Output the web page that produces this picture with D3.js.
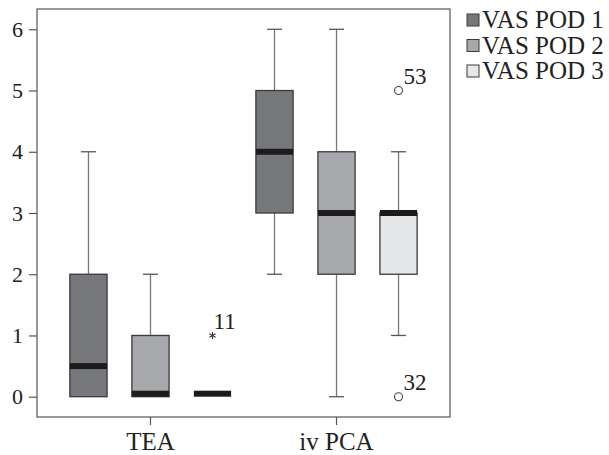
<!DOCTYPE html>
<html><head><meta charset="utf-8">
<script src="https://cdn.jsdelivr.net/npm/d3@7/dist/d3.min.js"></script>
<style>body{margin:0;background:#fff}svg{display:block}</style>
</head><body><svg id="c" width="609" height="455"></svg>
<script>
const groups = ["TEA", "iv PCA"];
const seriesNames = ["VAS POD 1", "VAS POD 2", "VAS POD 3"];
const seriesColors = ["#77787b", "#a7a8ab", "#e6e7e8"];
// [min, q1, median, q3, max] per group, per series
const teaStats = [[0, 0, 0.5, 2, 4], [0, 0, 0, 1, 2], [0, 0, 0, 0, 0]];
const pcaStats = [[2, 3, 4, 5, 6], [0, 2, 3, 4, 6], [1, 2, 3, 3, 4]];
const yTicks = [0, 1, 2, 3, 4, 5, 6];
// outliers: group, series, value, label, symbol
const outliers = [
  {g: "TEA", s: 2, v: 1, label: "11", sym: "star"},
  {g: "iv PCA", s: 2, v: 5, label: "53", sym: "circle"},
  {g: "iv PCA", s: 2, v: 0, label: "32", sym: "circle"}
];

const stats = {"TEA": teaStats, "iv PCA": pcaStats};
const svg = d3.select("#c");
const L = 37, R = 450, T = 9, B = 417;
const font = "'Liberation Serif', 'DejaVu Serif', serif";

const x = d3.scaleBand().domain(groups).range([L, R]).paddingOuter(0.11).paddingInner(0);
const xs = d3.scaleBand().domain([0, 1, 2]).range([0, x.bandwidth()]).paddingInner(0.4).paddingOuter(0.2);
const y = d3.scaleLinear().domain([0, 6]).range([396.7, 29.3]);

// frame
svg.append("rect").attr("x", L).attr("y", T).attr("width", R - L).attr("height", B - T)
  .attr("fill", "none").attr("stroke", "#555").attr("stroke-width", 1.2);

// y axis
const yAxis = d3.axisLeft(y).tickValues(yTicks).tickSize(8).tickPadding(6).tickFormat(d3.format("d"));
const ga = svg.append("g").attr("transform", `translate(${L},0)`).call(yAxis);
ga.select(".domain").remove();
ga.selectAll("line").attr("stroke", "#555").attr("stroke-width", 1.2);
ga.selectAll("text").attr("font-family", font).attr("font-size", 22).attr("fill", "#222");

// x axis
const xAxis = d3.axisBottom(x).tickSize(8).tickPadding(5);
const gx = svg.append("g").attr("transform", `translate(0,${B})`).call(xAxis);
gx.select(".domain").remove();
gx.selectAll("line").attr("stroke", "#555").attr("stroke-width", 1.2);
gx.selectAll("text").attr("font-family", font).attr("font-size", 25).attr("fill", "#222").attr("dy", "0.8em");

const bw = xs.bandwidth();
groups.forEach(g => {
  stats[g].forEach((st, i) => {
    const [mn, q1, md, q3, mx] = st;
    const cx = x(g) + xs(i) + bw / 2;
    const gg = svg.append("g");
    // whiskers
    if (mx > q3) {
      gg.append("line").attr("x1", cx).attr("x2", cx).attr("y1", y(q3)).attr("y2", y(mx)).attr("stroke", "#777").attr("stroke-width", 1.3);
      gg.append("line").attr("x1", cx - 7.5).attr("x2", cx + 7.5).attr("y1", y(mx)).attr("y2", y(mx)).attr("stroke", "#555").attr("stroke-width", 1.3);
    }
    if (mn < q1) {
      gg.append("line").attr("x1", cx).attr("x2", cx).attr("y1", y(q1)).attr("y2", y(mn)).attr("stroke", "#777").attr("stroke-width", 1.3);
      gg.append("line").attr("x1", cx - 7.5).attr("x2", cx + 7.5).attr("y1", y(mn)).attr("y2", y(mn)).attr("stroke", "#555").attr("stroke-width", 1.3);
    }
    if (q3 > q1) {
      gg.append("rect").attr("x", cx - bw / 2).attr("y", y(q3)).attr("width", bw).attr("height", y(q1) - y(q3))
        .attr("fill", seriesColors[i]).attr("stroke", "#3a3a3a").attr("stroke-width", 1.3);
    }
    // median: thick bar, kept inside the box
    const mh = 6;
    let my = y(md) - mh / 2;
    if (my + mh > y(q1)) my = y(q1) - mh;
    gg.append("rect").attr("x", cx - bw / 2).attr("y", my).attr("width", bw).attr("height", mh).attr("fill", "#1c1c1c");
  });
});

// outliers
outliers.forEach(o => {
  const cx = x(o.g) + xs(o.s) + bw / 2;
  const cy = y(o.v);
  if (o.sym === "circle") {
    svg.append("circle").attr("cx", cx).attr("cy", cy).attr("r", 4).attr("fill", "#fff").attr("stroke", "#444").attr("stroke-width", 1.1);
    svg.append("text").attr("x", cx + 5).attr("y", cy - 7).attr("font-family", font).attr("font-size", 23).attr("fill", "#222").text(o.label);
  } else {
    // asterisk marker drawn as a path (3 strokes)
    const r = 3.5;
    let p = "";
    for (let k = 0; k < 3; k++) {
      const a = Math.PI / 2 + k * Math.PI / 3;
      p += `M${cx - r * Math.cos(a)},${cy - r * Math.sin(a)}L${cx + r * Math.cos(a)},${cy + r * Math.sin(a)}`;
    }
    svg.append("path").attr("d", p).attr("stroke", "#333").attr("stroke-width", 1.1).attr("fill", "none");
    svg.append("text").attr("x", cx + 1).attr("y", cy - 6).attr("font-family", font).attr("font-size", 23).attr("fill", "#222").text(o.label);
  }
});

// legend
const lg = svg.append("g").attr("transform", "translate(467,14)");
seriesNames.forEach((n, i) => {
  const row = lg.append("g").attr("transform", `translate(0,${i * 25.5})`);
  row.append("rect").attr("x", 0).attr("y", 0).attr("width", 12).attr("height", 12)
    .attr("fill", seriesColors[i]).attr("stroke", "#3a3a3a").attr("stroke-width", 1);
  row.append("text").attr("x", 15).attr("y", 14).attr("font-family", font).attr("font-size", 25).attr("fill", "#222").text(n);
});
</script></body></html>
